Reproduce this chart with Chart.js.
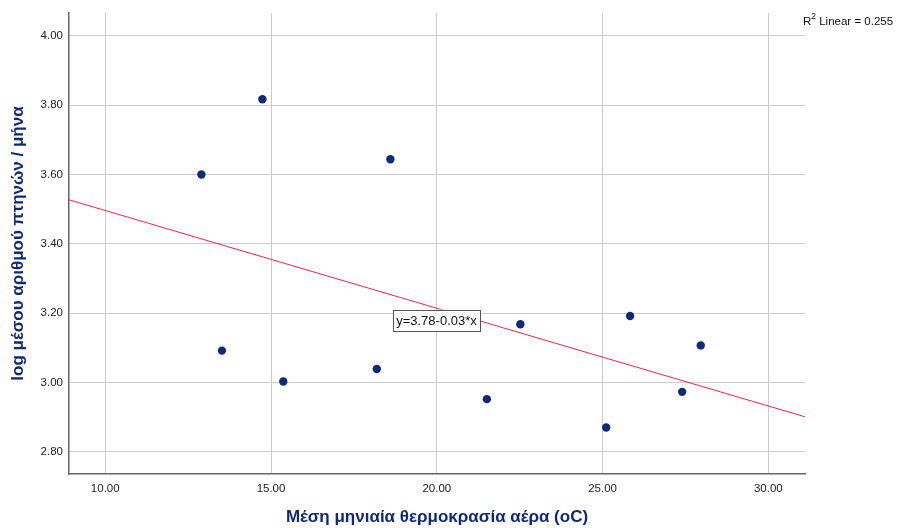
<!DOCTYPE html>
<html>
<head>
<meta charset="utf-8">
<script src="https://cdn.jsdelivr.net/npm/chart.js@4.4.0/dist/chart.umd.min.js"></script>
<style>
  html, body { margin: 0; padding: 0; background: #fff; }
  #wrap { width: 897px; height: 528px; }
</style>
</head>
<body>
<div id="wrap"><canvas id="myChart" width="897" height="528"></canvas></div>
<script>
// ---------------- data ----------------
var tempX = [12.90, 14.74, 18.60, 13.52, 15.37, 18.19, 21.51, 22.52, 25.83, 25.11, 27.40, 27.96];
var logBirds = [3.600, 3.817, 3.644, 3.092, 3.003, 3.039, 2.952, 3.168, 3.192, 2.870, 2.973, 3.107];

// fit line end points (left / right edge of plot)
var fitX = [8.907, 31.105];
var fitY = [3.527, 2.901];

var xTicks = [10, 15, 20, 25, 30];
var yTicks = [2.8, 3.0, 3.2, 3.4, 3.6, 3.8, 4.0];

var fitLabel = 'y=3.78-0.03*x';
var fitLabelPos = [19.99, 3.18];
var r2Label = 'Linear = 0.255';

var FONT = '"Liberation Sans", Arial, sans-serif';
var NAVY = '#102a78';

// ---------------- little plugin for the text boxes ----------------
var annot = {
    id: 'annot',
    afterDatasetsDraw: function(chart) {
        var ctx = chart.ctx;
        var xs = chart.scales.x, ys = chart.scales.y;
        ctx.save();
        // equation box
        ctx.font = '13px ' + FONT;
        var w = ctx.measureText(fitLabel).width;
        var cx = xs.getPixelForValue(fitLabelPos[0]);
        var cy = ys.getPixelForValue(fitLabelPos[1]);
        var bw = w + 6, bh = 21;
        ctx.fillStyle = '#fff';
        ctx.fillRect(cx - bw / 2, cy - bh / 2, bw, bh);
        ctx.strokeStyle = '#555';
        ctx.lineWidth = 1;
        ctx.strokeRect(Math.round(cx - bw / 2) + 0.5, Math.round(cy - bh / 2) + 0.5, Math.round(bw), bh);
        ctx.fillStyle = '#111';
        ctx.textAlign = 'center';
        ctx.textBaseline = 'middle';
        ctx.fillText(fitLabel, cx, cy + 1);

        // R^2 note at top right
        var rx = chart.chartArea.right - 2;
        var ry = 22;
        ctx.textAlign = 'left';
        ctx.font = '11.5px ' + FONT;
        ctx.fillStyle = '#111';
        ctx.fillText('R', rx, ry);
        var rw = ctx.measureText('R').width;
        ctx.font = '8.5px ' + FONT;
        ctx.fillText('2', rx + rw, ry - 5);
        var sw = ctx.measureText('2').width;
        ctx.font = '11.5px ' + FONT;
        ctx.fillText(' ' + r2Label, rx + rw + sw, ry);
        ctx.restore();
    }
};

var points = tempX.map(function(v, i) { return { x: v, y: logBirds[i] }; });
var fitPts = fitX.map(function(v, i) { return { x: v, y: fitY[i] }; });

var ctx = document.getElementById('myChart').getContext('2d');
var chart = new Chart(ctx, {
    type: 'scatter',
    data: {
        datasets: [{
            data: points,
            pointRadius: 4.2,
            pointHoverRadius: 4.2,
            pointBackgroundColor: NAVY,
            pointBorderWidth: 0,
            showLine: false
        }, {
            data: fitPts,
            showLine: true,
            borderColor: '#e8264f',
            borderWidth: 1,
            pointRadius: 0,
            fill: false
        }]
    },
    options: {
        responsive: false,
        animation: false,
        events: [],
        layout: { padding: { top: 13, right: 92, left: 0, bottom: 0 } },
        plugins: {
            legend: { display: false },
            tooltip: { enabled: false }
        },
        scales: {
            x: {
                type: 'linear',
                min: fitX[0],
                max: fitX[1],
                afterBuildTicks: function(s) { s.ticks = xTicks.map(function(v) { return { value: v }; }); },
                afterFit: function(s) { s.height = 54; },
                grid: { color: '#cccccc', drawTicks: false },
                border: { color: '#666', width: 1.5 },
                ticks: {
                    padding: 8,
                    color: '#222',
                    font: { family: FONT, size: 11.5 },
                    callback: function(v) { return v.toFixed(2); },
                    maxRotation: 0
                },
                title: {
                    display: true,
                    text: 'Μέση μηνιαία θερμοκρασία αέρα (oC)',
                    color: NAVY,
                    font: { family: FONT, size: 17, weight: 'bold' },
                    padding: { top: 0, bottom: 0 }
                }
            },
            y: {
                type: 'linear',
                min: 2.736,
                max: 4.066,
                afterBuildTicks: function(s) { s.ticks = yTicks.map(function(v) { return { value: v }; }); },
                afterFit: function(s) { s.width = 69; },
                grid: { color: '#cccccc', drawTicks: false },
                border: { color: '#666', width: 1.5 },
                ticks: {
                    padding: 6,
                    color: '#222',
                    font: { family: FONT, size: 11.5 },
                    callback: function(v) { return v.toFixed(2); }
                },
                title: {
                    display: true,
                    text: 'log μέσου αριθμού πτηνών / μήνα',
                    color: NAVY,
                    font: { family: FONT, size: 17, weight: 'bold' },
                    padding: { top: 8, bottom: 0 }
                }
            }
        }
    },
    plugins: [annot]
});
</script>
</body>
</html>
